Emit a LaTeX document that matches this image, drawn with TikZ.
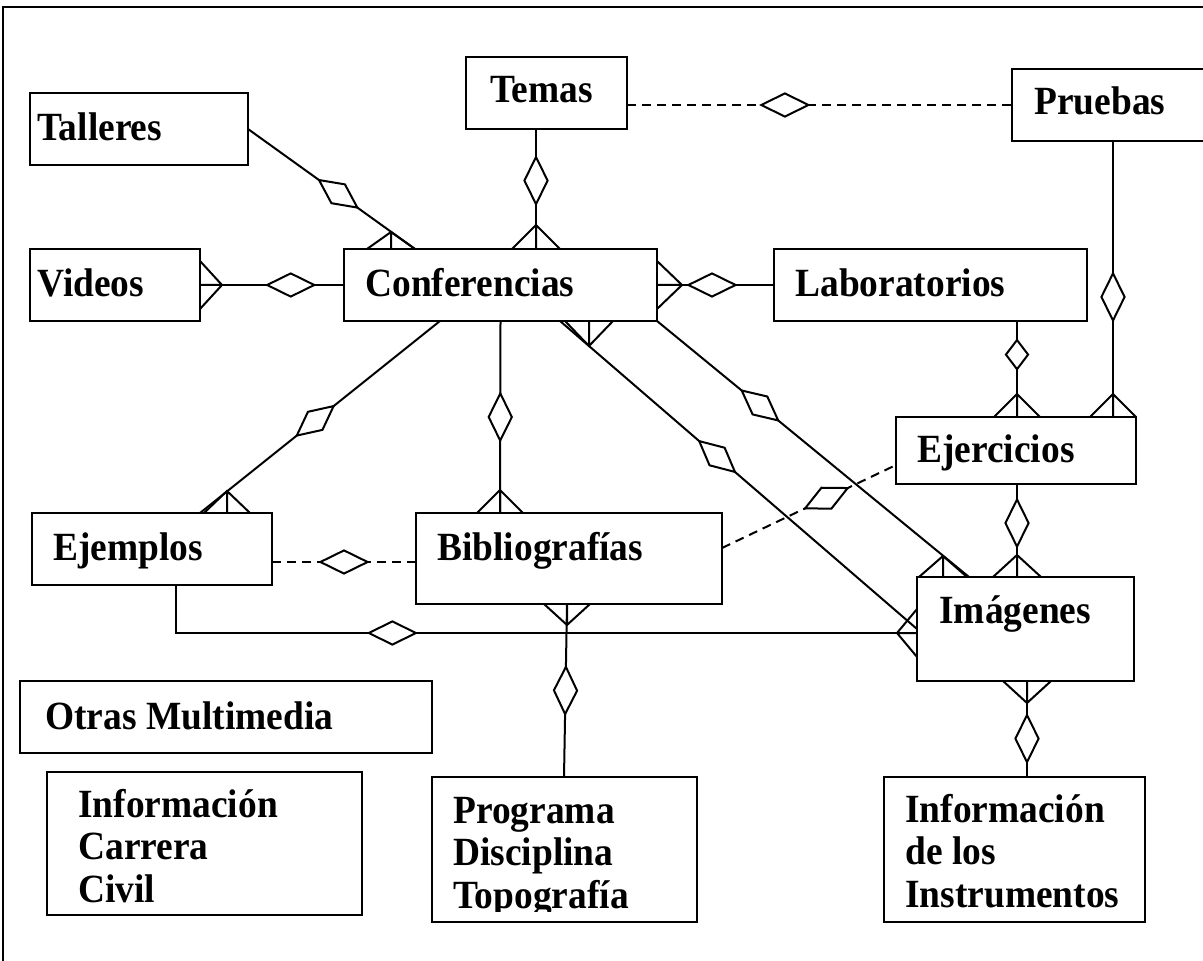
\documentclass[tikz,border=0pt]{standalone}
\usepackage{graphicx}
\usepackage{fontspec}
\setmainfont{Liberation Serif}
\usetikzlibrary{shapes.geometric,calc,positioning}

% many-side mark: apex, point on the box edge, half spread
\newcommand{\crowfoot}[3]{%
  \draw[rel] ($(#2)+(#3)$) -- (#1) -- ($(#2)-(#3)$) (#1) -- (#2);}
% the labels are set a little taller than wide
\newcommand{\tall}[1]{\scalebox{1}[1.07]{#1}}
\newcommand{\lines}[1]{\tall{\begin{tabular}[t]{@{}l@{}}#1\end{tabular}}}

\begin{document}
\begin{tikzpicture}[x=0.5pt,y=-0.5pt]
	\tikzstyle{item}
	  =[draw, rectangle, line width=1pt, inner sep=0pt, 
	  outer sep=0pt, anchor=north west]
	\tikzstyle{lbl}
	  =[inner sep=0pt, anchor=base west, 
	  font=\fontsize{18.7}{19.86}\selectfont\bfseries]
	\tikzstyle{rel}=[line width=1pt]
	\tikzstyle{opt}=[rel, dash pattern=on 4.5pt off 3pt]
	\tikzstyle{dia}
	  =[draw, solid, fill=white, diamond, inner sep=0pt, line width=1pt,
	  minimum width=24pt, minimum height=12pt, sloped]
	\tikzstyle{dia-s}=[dia, minimum width=15pt, minimum height=11.5pt]

	\clip (0,0) rectangle (1203,961);
	\draw[line width=1.3pt] (3,1000) |- (1250,7);

	% entities
	\node[item, minimum width=80.5pt, minimum height=36pt] (tem)
	  at (466,57) {};
	\node[item, minimum width=109pt, minimum height=36pt] (pru)
	  at (1012,69) {};
	\node[item, minimum width=109pt, minimum height=36pt] (tal)
	  at (30,93) {};
	\node[item, minimum width=85pt, minimum height=36pt] (vid)
	  at (30,249) {};
	\node[item, minimum width=156.5pt, minimum height=36pt] (con)
	  at (344,249) {};
	\node[item, minimum width=156.5pt, minimum height=36pt] (lab)
	  at (774,249) {};
	\node[item, minimum width=120pt, minimum height=33.5pt] (eje)
	  at (896,417) {};
	\node[item, minimum width=120pt, minimum height=36pt] (ejm)
	  at (32,513) {};
	\node[item, minimum width=153pt, minimum height=45.5pt] (bib)
	  at (416,513) {};
	\node[item, minimum width=108.5pt, minimum height=52pt] (ima)
	  at (917,577) {};
	\node[item, minimum width=206pt, minimum height=36pt] (otr)
	  at (20,681) {};
	\node[item, minimum width=157.5pt, minimum height=71.5pt] (icc)
	  at (47,772) {};
	\node[item, minimum width=132.5pt, minimum height=72.5pt] (pro)
	  at (432,777) {};
	\node[item, minimum width=130.5pt, minimum height=72.5pt] (iin)
	  at (884,777) {};

	% texts
	\node[lbl] (tem-t) at (490,103) {\tall{Temas}};
	\node[lbl] (pru-t) at (1034,115) {\tall{Pruebas}};
	\node[lbl] (tal-t) at (37,141) {\tall{Talleres}};
	\node[lbl] (vid-t) at (37,297) {\tall{Videos}};
	\node[lbl] (con-t) at (365,297) {\tall{Conferencias}};
	\node[lbl] (lab-t) at (795,297) {\tall{Laboratorios}};
	\node[lbl] (eje-t) at (917,463) {\tall{Ejercicios}};
	\node[lbl] (ejm-t) at (53,560) {\tall{Ejemplos}};
	\node[lbl] (bib-t) at (437,560) {\tall{Bibliografías}};
	\node[lbl] (ima-t) at (939,623) {\tall{Imágenes}};
	\node[lbl] (otr-t) at (45,729) {\tall{Otras Multimedia}};
	\node[lbl] (icc-t) at (78,817) {\lines{Información\\Carrera\\Civil}};
	\begin{scope}
	  \clip (432,777) rectangle (697,911);
	  \node[lbl] (pro-t) at (453,823) {\lines{Programa\\Disciplina\\Topografía}};
	\end{scope}
	\node[lbl] (iin-t) at (905,822) {\lines{Información\\de los\\Instrumentos}};

	% relations
	\draw[opt] (tem.east |- 0,105) -- node[dia, pos=0.41] {} (pru.west |- 0,105);
	\draw[rel] (tem.south -| 536,0) -- node[dia, pos=0.43] {} (con.north -| 536,0);
	\crowfoot{536,225}{536,249}{24,0}
	\draw[rel] (tal.east) -- node[dia, pos=0.54] {} (con.north -| 415,0);
	\crowfoot{391,232}{391,249}{24,0}
	\draw[rel] (vid.east) -- node[dia, pos=0.63] {} (con.west);
	\crowfoot{222,285}{200,285}{0,24}
	\draw[rel] (con.east) -- node[dia, pos=0.47] {} (lab.west);
	\crowfoot{682,285}{657,285}{0,24}
	\draw[rel] (lab.south -| 1017,0) -- node[dia-s, pos=0.35] {} (eje.north -| 1017,0);
	\crowfoot{1017,394}{1017,417}{23,0}
	\draw[rel] (pru.south -| 1113,0) -- node[dia, pos=0.565] {} (eje.north -| 1113,0);
	\crowfoot{1113,394}{1113,417}{23,0}
	\draw[rel] (eje.south -| 1017,0) -- node[dia, pos=0.42] {} (ima.north -| 1017,0);
	\crowfoot{1017,555}{1017,577}{24,0}
	\draw[rel] (con.south east) -- node[dia, pos=0.33] {} (ima.north -| 969,0);
	\crowfoot{943,556}{943,577}{24,0}
	\draw[rel] (con.south -| 560,0) -- node[dia, pos=0.44] {} (ima.west);
	\crowfoot{589,346}{589,321}{24,0}
	\draw[rel] (con.south -| 440,0) -- node[dia, pos=0.52] {} (ejm.north -| 200,0);
	\crowfoot{227,491}{227,513}{23,0}
	\draw[rel] (con.south) -- node[dia, pos=0.5] {} (bib.north -| 500,0);
	\crowfoot{500,490}{500,513}{23,0}
	\draw[opt] (ejm.east |- 0,562) -- node[dia, pos=0.5] {} (bib.west |- 0,562);
	\draw[rel] (ejm.south -| 176,0) |- node[dia, pos=0.646] {} (ima.west |- 0,633);
	\crowfoot{897,633}{917,633}{0,24}
	\draw[opt] (bib.east |- 0,548) -- node[dia, pos=0.6] {} (eje.west |- 0,465);
	\draw[rel] (bib.south -| 567,0) -- node[dia, pos=0.5] {} (pro.north -| 564,0);
	\crowfoot{567,625}{567,604}{23,0}
	\draw[rel] (ima.south -| 1027,0) -- node[dia, pos=0.6] {} (iin.north -| 1027,0);
	\crowfoot{1027,703}{1027,681}{24,0}
\end{tikzpicture}
\end{document}
